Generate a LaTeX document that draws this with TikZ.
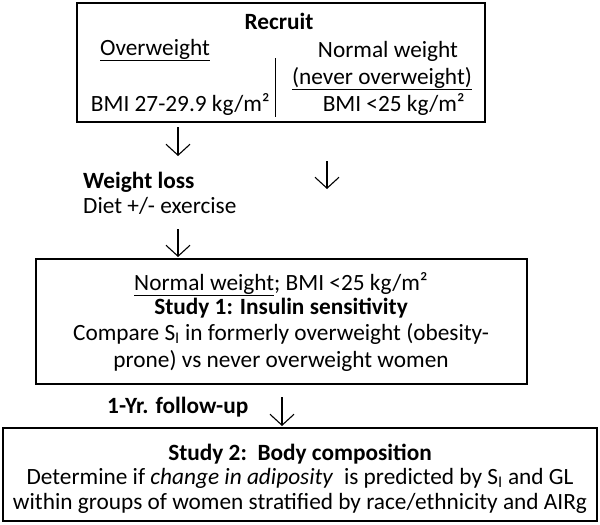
\documentclass[tikz,border=0pt]{standalone}
\usepackage{fontspec}
\setmainfont{Carlito}
\usetikzlibrary{arrows.meta}
\begin{document}
\begin{tikzpicture}[x=1pt,y=-1pt,
  font=\fontsize{23.3}{27}\selectfont,
  box/.style={draw, line width=1.1pt, inner sep=0pt},
  txt/.style={inner sep=0pt, anchor=base},
  txtl/.style={inner sep=0pt, anchor=base west},
  txtr/.style={inner sep=0pt, anchor=base east},
  arr/.style={-{Straight Barb[length=11pt,width=24pt,line width=1.1pt]}, line width=1.1pt}]
\useasboundingbox (0,0) rectangle (600,525);
% boxes
\node[box, minimum width=408pt, minimum height=119pt] (b1) at (281,62.5) {};
\node[box, minimum width=491pt, minimum height=125pt] (b2) at (281.5,321.5) {};
\node[box, minimum width=594pt, minimum height=93pt] (b3) at (300,474.5) {};
% box 1 content
\node[txt] (recruit) at (279,29) {\textbf{Recruit}};
\node[txt] (ow) at (155,55) {\underline{Overweight}};
\node[txtr] (bmiow) at (270,111) {BMI 27-29.9 kg/m²};
\node[txt] (nw) at (388,57) {Normal weight};
\node[txt] (never) at (382,84) {\underline{(never overweight)}};
\node[txtr] (bminw) at (465,111) {BMI <25 kg/m²};
\coordinate (sepA) at (275,58);
\coordinate (sepB) at (275,117);
\draw[line width=0.7pt] (sepA) -- (sepB);
% weight loss
\node[txtl] (wl) at (83,188) {\textbf{Weight loss}};
\node[txtl] (diet) at (83,213) {Diet +/- exercise};
% arrows
\coordinate (a1s) at (178,127); \coordinate (a1e) at (178,156);
\coordinate (a2s) at (327,161); \coordinate (a2e) at (327,189);
\coordinate (a3s) at (178,229); \coordinate (a3e) at (178,257);
\coordinate (a4s) at (282,397); \coordinate (a4e) at (282,426);
\draw[arr] (a1s) -- (a1e);
\draw[arr] (a2s) -- (a2e);
\draw[arr] (a3s) -- (a3e);
\draw[arr] (a4s) -- (a4e);
% box 2 content
\node[txt] (l21) at (281,290) {\underline{Normal weight}; BMI <25 kg/m²};
\node[txt] (l22) at (281,314) {\textbf{Study 1: Insulin sensitivity}};
\node[txt] (l23) at (281,340) {Compare S\textsubscript{I} in formerly overweight (obesity-};
\node[txt] (l24) at (281,367) {prone) vs never overweight women};
% follow-up
\node[txtl] (fu) at (107,413) {\textbf{1-Yr. follow-up}};
% box 3 content
\node[txt] (l31) at (300,460) {\textbf{Study 2:\ \ Body composition}};
\node[txt] (l32) at (300,484) {Determine if \textit{change in adiposity}\ \ is predicted by S\textsubscript{I} and GL};
\node[txt] (l33) at (300,509) {within groups of women stratified by race/ethnicity and AIRg};
\end{tikzpicture}
\end{document}
